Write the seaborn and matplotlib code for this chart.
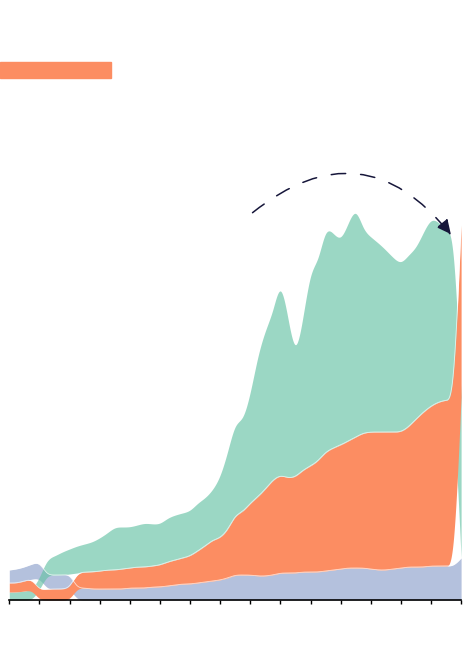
import numpy as np
import matplotlib
matplotlib.use("Agg")
import matplotlib.pyplot as plt
from matplotlib.patches import Rectangle
import seaborn as sns

years = list(range(1960, 2021))
series_names = ["blue", "orange", "green"]

blue = [13, 14, 14, 15, 16, 14, 14, 14, 14, 12,
        12, 11, 11, 11, 11, 11, 12, 12, 12, 13,
        13, 14, 15, 16, 16, 17, 18, 19, 20, 22,
        25, 25, 25, 24, 24, 25, 27, 27, 27, 28,
        28, 28, 29, 30, 31, 32, 32, 32, 31, 30,
        30, 31, 32, 33, 33, 33, 34, 34, 34, 34,
        42]
orange = [9, 9, 10, 11, 10, 11, 11, 11, 12, 15,
          16, 17, 18, 19, 19, 20, 20, 21, 21, 21,
          22, 24, 25, 26, 28, 32, 36, 41, 42, 48,
          60, 63, 72, 79, 87, 95, 98, 95, 96, 102,
          106, 111, 119, 122, 124, 127, 131, 135, 137, 138,
          138, 137, 136, 140, 148, 155, 160, 164, 166, 166,
          172]
green = [8, 8, 9, 10, 12, 16, 19, 23, 25, 27,
         28, 30, 33, 37, 43, 42, 41, 42, 44, 42,
         41, 44, 45, 45, 45, 48, 48, 50, 61, 78,
         93, 91, 109, 142, 159, 168, 196, 160, 119, 152,
         196, 199, 225, 215, 204, 218, 230, 203, 195, 189,
         182, 174, 168, 172, 171, 180, 188, 180, 170, 168,
         161]

tick_years = list(range(1960, 2021, 4))


def basis(x, y, n=40):
    # uniform cubic B-spline through the end points, like d3.curveBasis
    px = np.concatenate([[x[0]] * 2, x, [x[-1]] * 2]).astype(float)
    py = np.concatenate([[y[0]] * 2, y, [y[-1]] * 2]).astype(float)
    t = np.linspace(0, 1, n, endpoint=False)
    b0 = (1 - t) ** 3 / 6
    b1 = (3 * t**3 - 6 * t**2 + 4) / 6
    b2 = (-3 * t**3 + 3 * t**2 + 3 * t + 1) / 6
    b3 = t**3 / 6
    xs, ys = [], []
    for i in range(len(px) - 3):
        xs.append(b0 * px[i] + b1 * px[i + 1] + b2 * px[i + 2] + b3 * px[i + 3])
        ys.append(b0 * py[i] + b1 * py[i + 1] + b2 * py[i + 2] + b3 * py[i + 3])
    xs.append([px[-1]])
    ys.append([py[-1]])
    return np.concatenate(xs), np.concatenate(ys)


def ranked_stack(values):
    # smallest layer at the bottom, order re-sorted at every year
    vals = np.array(values, float)
    y0 = np.zeros_like(vals)
    y1 = np.zeros_like(vals)
    for j in range(vals.shape[1]):
        base = 0.0
        for k in np.argsort(vals[:, j], kind="stable"):
            y0[k, j] = base
            base += vals[k, j]
            y1[k, j] = base
    return y0, y1


sns.set_theme(style="white")
pal = sns.color_palette("Set2")
colors = {"green": pal[0], "orange": pal[1], "blue": pal[2]}
alphas = {"green": 0.65, "orange": 1.0, "blue": 0.65}

fig = plt.figure(figsize=(4.74, 6.5), dpi=100)
ax = fig.add_axes([9.3 / 474, 50 / 650, 451.8 / 474, 600 / 650])

y0, y1 = ranked_stack([blue, orange, green])

edges = []
for name in ["blue", "green", "orange"]:
    k = series_names.index(name)
    xs, lo = basis(years, y0[k])
    _, hi = basis(years, y1[k])
    ax.fill_between(xs, lo, hi, color=colors[name], alpha=alphas[name], lw=0)
    if name != "green":
        edges.append((xs, hi))

for xs, hi in edges:
    ax.plot(xs, hi, color="white", lw=0.6, alpha=0.7)

ax.annotate("", xy=(2018.66, 365), xytext=(1992.3, 387.3),
            arrowprops=dict(arrowstyle="-|>,head_length=0.45,head_width=0.22",
                            connectionstyle="arc3,rad=-0.5", color="#16163a",
                            lw=1.1, linestyle=(0, (9.5, 9.8)),
                            shrinkA=0, shrinkB=0, mutation_scale=20))

ax.set_xlim(years[0], years[-1])
ax.set_ylim(0, 600)
ax.set_xticks(tick_years)
ax.set_xticklabels([])
ax.set_yticks([])
sns.despine(ax=ax, left=True)
ax.spines["bottom"].set_color("black")
ax.spines["bottom"].set_linewidth(1.2)
ax.tick_params(axis="x", bottom=True, length=3, width=1, color="black")
ax.patch.set_alpha(0)

fig.patches.append(Rectangle((0, (650 - 78) / 650), 111 / 474, 16 / 650,
                             transform=fig.transFigure, color=colors["orange"]))

fig.savefig("out.png", dpi=100)
